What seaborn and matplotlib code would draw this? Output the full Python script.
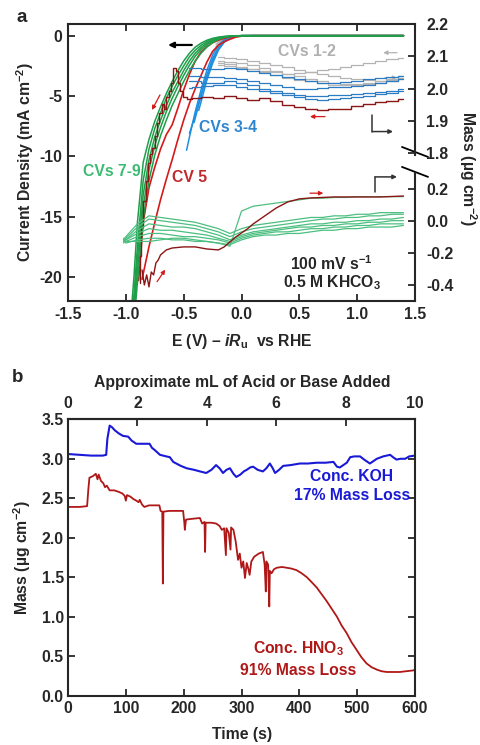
import numpy as np
import pandas as pd
import matplotlib
matplotlib.use('Agg')
import matplotlib.pyplot as plt
from matplotlib.ticker import FormatStrFormatter
import seaborn as sns

# -----------------------------
# Panel a: current (left axis)
# -----------------------------
E_green_cur = [-0.95, -0.93, -0.9, -0.85, -0.8, -0.75, -0.7, -0.65, -0.6, -0.55, -0.5, -0.45,
               -0.4, -0.35, -0.3, -0.25, -0.2, -0.15, -0.1, -0.05, 0.0, 0.1, 1.4]
I_green_1 = [-22.5, -20.0, -15.5, -10.5, -8.6, -7.1, -5.9, -4.8, -3.8, -2.9, -2.1, -1.45,
             -0.95, -0.62, -0.38, -0.22, -0.12, -0.06, -0.03, -0.01, 0.0, 0.0, 0.0]
I_green_2 = [-23.5, -21.5, -17.5, -12.0, -9.4, -7.7, -6.4, -5.2, -4.2, -3.3, -2.5, -1.75,
             -1.2, -0.8, -0.5, -0.3, -0.16, -0.08, -0.04, -0.015, 0.0, 0.0, 0.0]
I_green_3 = [-24.0, -22.3, -18.5, -13.2, -10.3, -8.4, -7.0, -5.8, -4.7, -3.8, -2.9, -2.1,
             -1.45, -0.98, -0.62, -0.38, -0.21, -0.1, -0.05, -0.02, 0.0, 0.0, 0.0]
I_green_4 = [-24.5, -23.0, -19.5, -14.2, -11.1, -9.1, -7.6, -6.3, -5.2, -4.2, -3.3, -2.45,
             -1.7, -1.15, -0.74, -0.45, -0.25, -0.12, -0.06, -0.02, 0.0, 0.0, 0.0]
I_green_5 = [-25.0, -23.8, -20.5, -15.2, -12.0, -9.9, -8.3, -7.0, -5.8, -4.8, -3.8, -2.9,
             -2.1, -1.45, -0.95, -0.58, -0.32, -0.15, -0.07, -0.03, -0.01, 0.0, 0.0]

E_red_cur_1 = [-0.89, -0.85, -0.8, -0.75, -0.7, -0.65, -0.6, -0.55, -0.5, -0.45, -0.4, -0.35,
               -0.3, -0.25, -0.2, -0.15, -0.1, -0.05, 0.0, 0.1, 1.4]
I_red_cur_1 = [-20.3, -15.5, -12.6, -10.9, -9.4, -8.2, -7.4, -6.0, -4.5, -3.2, -2.1, -1.35,
               -0.9, -0.58, -0.38, -0.22, -0.1, -0.04, -0.01, 0.0, 0.0]
E_red_cur_2 = [-0.86, -0.8, -0.75, -0.7, -0.65, -0.6, -0.55, -0.5, -0.45, -0.4, -0.35, -0.3,
               -0.25, -0.2, -0.15, -0.1, -0.05, 0.0, 0.1, 1.4]
I_red_cur_2 = [-20.2, -17.5, -15.5, -13.6, -11.9, -10.3, -8.6, -7.0, -5.6, -4.4, -3.3, -2.2,
               -1.3, -0.8, -0.5, -0.3, -0.12, -0.04, 0.0, 0.0]

E_blue_cur_1 = [-0.475, -0.45, -0.4, -0.35, -0.3, -0.25, -0.2, -0.15, -0.1, -0.05, 0.0, 1.4]
I_blue_cur_1 = [-9.5, -8.4, -6.3, -4.5, -2.9, -1.6, -0.8, -0.35, -0.12, -0.03, 0.0, 0.0]
E_blue_cur_2 = [-0.45, -0.4, -0.35, -0.3, -0.25, -0.2, -0.15, -0.1, -0.05, 0.0, 1.4]
I_blue_cur_2 = [-8.1, -6.6, -4.9, -3.3, -1.9, -1.0, -0.45, -0.15, -0.05, 0.0, 0.0]
E_blue_cur_3 = [-0.41, -0.35, -0.3, -0.25, -0.2, -0.15, -0.1, -0.05, 0.0, 1.4]
I_blue_cur_3 = [-7.2, -5.0, -3.4, -2.1, -1.1, -0.5, -0.2, -0.05, 0.0, 0.0]
E_blue_cur_4 = [-0.37, -0.35, -0.3, -0.25, -0.2, -0.15, -0.1, -0.05, 0.0, 1.4]
I_blue_cur_4 = [-6.2, -5.5, -3.7, -2.3, -1.2, -0.55, -0.2, -0.06, 0.0, 0.0]

E_gray_cur = [-0.22, -0.2, -0.15, -0.1, -0.05, 0.0, 1.4]
I_gray_cur_1 = [-0.9, -0.7, -0.35, -0.14, -0.04, 0.0, 0.0]
I_gray_cur_2 = [-0.7, -0.55, -0.28, -0.1, -0.03, 0.0, 0.0]

# -----------------------------
# Panel a: mass, upper break (1.8 - 2.2)
# -----------------------------
E_gray_m = [-0.2, -0.1, 0.0, 0.1, 0.2, 0.3, 0.4, 0.5, 0.6, 0.7, 0.8, 0.9, 1.0, 1.1, 1.2, 1.3, 1.4]
m_gray_1 = [2.098, 2.094, 2.092, 2.086, 2.080, 2.072, 2.066, 2.058, 2.050, 2.044, 2.040, 2.034,
            2.030, 2.026, 2.024, 2.026, 2.030]
m_gray_2 = [2.086, 2.083, 2.078, 2.072, 2.064, 2.055, 2.046, 2.038, 2.030, 2.024, 2.018, 2.014,
            2.012, 2.014, 2.018, 2.024, 2.032]
m_gray_3 = [2.074, 2.070, 2.064, 2.060, 2.055, 2.050, 2.046, 2.048, 2.052, 2.056, 2.060, 2.066,
            2.072, 2.079, 2.086, 2.091, 2.096]
m_gray_4 = [2.080, 2.076, 2.068, 2.060, 2.052, 2.042, 2.034, 2.028, 2.022, 2.016, 2.012, 2.010,
            2.013, 2.016, 2.022, 2.030, 2.040]

E_blue_m = [-0.45, -0.4, -0.3, -0.2, -0.1, 0.0, 0.1, 0.2, 0.3, 0.4, 0.5, 0.6, 0.7, 0.8, 0.9,
            1.0, 1.1, 1.2, 1.3, 1.4]
m_blue_1 = [2.063, 2.063, 2.060, 2.060, 2.063, 2.060, 2.054, 2.047, 2.041, 2.035, 2.029, 2.023,
            2.016, 2.016, 2.020, 2.023, 2.029, 2.032, 2.035, 2.038]
m_blue_2 = [2.038, 2.038, 2.035, 2.035, 2.032, 2.029, 2.023, 2.016, 2.010, 2.004, 1.998, 1.998,
            2.001, 2.004, 2.004, 2.007, 2.010, 2.016, 2.023, 2.029]
m_blue_3 = [2.023, 2.023, 2.016, 2.016, 2.023, 2.016, 2.010, 1.998, 1.992, 1.985, 1.979, 1.976,
            1.976, 1.979, 1.979, 1.982, 1.985, 1.989, 1.992, 1.998]
m_blue_4 = [2.001, 2.004, 2.007, 2.010, 2.010, 2.004, 1.998, 1.992, 1.985, 1.979, 1.973, 1.967,
            1.964, 1.967, 1.970, 1.973, 1.976, 1.982, 1.985, 1.992]

E_cv5_hi = [-0.88, -0.87, -0.86, -0.84, -0.82, -0.8, -0.78, -0.76, -0.74, -0.72, -0.7, -0.68,
            -0.66, -0.64, -0.62, -0.6, -0.58, -0.56, -0.54, -0.52, -0.5, -0.45, -0.4, -0.3,
            -0.2, -0.1, 0.0, 0.1, 0.2, 0.3, 0.4, 0.5, 0.6, 0.7, 0.8, 0.9, 1.0, 1.1, 1.2, 1.3, 1.4]
m_cv5_hi = [1.397, 1.481, 1.573, 1.651, 1.713, 1.769, 1.797, 1.815, 1.852, 1.893, 1.924, 1.952,
            1.936, 1.973, 1.992, 2.016, 2.063, 2.054, 2.016, 1.992, 1.973, 1.967, 1.970, 1.973,
            1.970, 1.976, 1.970, 1.964, 1.970, 1.961, 1.948, 1.942, 1.936, 1.933, 1.936, 1.936,
            1.945, 1.951, 1.958, 1.961, 1.967]

# -----------------------------
# Panel a: mass, lower break (-0.5 - 0.3)
# -----------------------------
E_cv5_lo = [-0.86, -0.84, -0.82, -0.8, -0.78, -0.76, -0.74, -0.72, -0.7, -0.65, -0.6, -0.5,
            -0.4, -0.3, -0.2, -0.15, -0.1, -0.05, 0.0, 0.05, 0.1, 0.15, 0.2, 0.25, 0.3, 0.4,
            0.5, 0.6, 0.8, 1.0, 1.2, 1.4]
m_cv5_lo = [-0.308, -0.402, -0.339, -0.414, -0.321, -0.339, -0.264, -0.246, -0.214, -0.183,
            -0.171, -0.164, -0.164, -0.177, -0.183, -0.164, -0.133, -0.102, -0.077, -0.052,
            -0.021, 0.004, 0.029, 0.054, 0.079, 0.117, 0.136, 0.142, 0.148, 0.148, 0.148, 0.154]

E_green_m = [-1.02, -1.0, -0.9, -0.8, -0.7, -0.6, -0.5, -0.4, -0.3, -0.2, -0.1, 0.0, 0.1, 0.2,
             0.3, 0.4, 0.5, 0.6, 0.7, 0.8, 0.9, 1.0, 1.1, 1.2, 1.3, 1.4]
m_green_1 = [-0.12, -0.10, -0.02, 0.03, 0.02, 0.01, 0.00, -0.01, -0.03, -0.05, -0.08, -0.05,
             -0.03, -0.02, -0.01, 0.00, 0.01, 0.02, 0.02, 0.03, 0.03, 0.04, 0.04, 0.05, 0.05, 0.05]
m_green_2 = [-0.13, -0.11, -0.04, 0.01, 0.00, -0.01, -0.02, -0.03, -0.05, -0.07, -0.10, -0.07,
             -0.05, -0.04, -0.03, -0.02, -0.01, 0.00, 0.01, 0.01, 0.02, 0.02, 0.03, 0.03, 0.04, 0.04]
m_green_3 = [-0.11, -0.12, -0.06, -0.02, -0.03, -0.04, -0.04, -0.05, -0.07, -0.09, -0.12, -0.09,
             -0.07, -0.06, -0.05, -0.04, -0.03, -0.02, -0.02, -0.01, -0.01, 0.00, 0.00, 0.01, 0.01, 0.02]
m_green_4 = [-0.14, -0.12, -0.08, -0.05, -0.06, -0.06, -0.07, -0.08, -0.09, -0.11, -0.13, -0.10,
             -0.08, -0.07, -0.06, -0.05, -0.04, -0.04, -0.03, -0.03, -0.02, -0.02, -0.01, -0.01, 0.00, 0.00]
m_green_5 = [-0.13, -0.13, -0.10, -0.08, -0.08, -0.09, -0.10, -0.10, -0.11, -0.12, -0.14, -0.11,
             -0.09, -0.08, -0.07, -0.07, -0.06, -0.05, -0.05, -0.04, -0.04, -0.03, -0.03, -0.02, -0.02, -0.02]
m_green_6 = [-0.12, -0.14, -0.12, -0.11, -0.11, -0.12, -0.12, -0.13, -0.13, -0.14, -0.15, -0.12,
             -0.10, -0.09, -0.09, -0.08, -0.08, -0.07, -0.06, -0.06, -0.05, -0.05, -0.04, -0.04, -0.04, -0.03]
m_green_7 = [-0.12, -0.13, -0.13, -0.13, -0.12, -0.11, -0.11, -0.12, -0.13, -0.14, -0.16, 0.06,
             0.09, 0.10, 0.11, 0.12, 0.13, 0.14, 0.14, 0.145, 0.145, 0.15, 0.15, 0.15, 0.15, 0.15]

# -----------------------------
# Panel b: EQCM mass vs time
# -----------------------------
t_koh = [0, 20, 40, 60, 66, 68, 72, 76, 81, 88, 95, 104, 110, 118, 130, 141, 145, 150, 159, 170,
         176, 182, 195, 205, 218, 228, 239, 248, 256, 262, 268, 274, 280, 286, 291, 298, 304,
         309, 315, 320, 328, 337, 343, 349, 354, 358, 365, 372, 385, 401, 415, 430, 445, 459,
         465, 470, 476, 482, 488, 495, 505, 512, 522, 528, 534, 545, 557, 562, 568, 575, 583,
         590, 600]
m_koh = [3.06, 3.05, 3.04, 3.04, 3.05, 3.25, 3.42, 3.40, 3.36, 3.32, 3.29, 3.28, 3.23, 3.19,
         3.19, 3.19, 3.14, 3.11, 3.05, 3.03, 3.02, 2.96, 2.91, 2.88, 2.86, 2.84, 2.82, 2.86,
         2.92, 2.88, 2.82, 2.86, 2.88, 2.81, 2.77, 2.80, 2.84, 2.86, 2.89, 2.90, 2.86, 2.84,
         2.88, 2.94, 2.88, 2.82, 2.86, 2.91, 2.92, 2.94, 2.94, 2.95, 2.95, 2.96, 2.90, 2.89,
         2.92, 2.95, 3.02, 3.03, 3.03, 2.99, 2.94, 2.97, 3.00, 3.03, 3.05, 3.02, 2.99, 3.00,
         3.00, 3.03, 3.04]

t_hno3 = [0, 20, 33, 35, 37, 43, 48, 51, 53, 57, 61, 64, 67, 72, 80, 88, 94, 98, 100, 102,
          108, 113, 118, 122, 124, 128, 132, 140, 150, 158, 160, 163, 164, 165, 175, 188, 199,
          201, 202, 204, 215, 228, 232, 236, 237, 238, 248, 256, 262, 266, 270, 273, 274, 278,
          281, 282, 286, 290, 294, 297, 300, 303, 306, 309, 312, 314, 317, 322, 330, 337, 340,
          342, 343, 346, 348, 349, 352, 356, 361, 370, 378, 386, 395, 404, 413, 421, 430, 438,
          447, 456, 465, 473, 482, 490, 499, 507, 516, 525, 534, 542, 551, 560, 574, 585, 597, 600]
m_hno3 = [2.39, 2.39, 2.40, 2.60, 2.76, 2.78, 2.81, 2.74, 2.80, 2.72, 2.69, 2.64, 2.66, 2.60,
          2.60, 2.58, 2.56, 2.53, 2.47, 2.54, 2.52, 2.49, 2.47, 2.45, 2.48, 2.42, 2.39, 2.41,
          2.41, 2.41, 2.34, 2.33, 1.42, 2.33, 2.34, 2.34, 2.34, 2.20, 2.10, 2.23, 2.24, 2.25,
          2.18, 2.20, 1.82, 2.19, 2.19, 2.18, 2.15, 2.10, 2.12, 1.78, 2.12, 2.06, 1.85, 2.13,
          2.10, 1.95, 1.72, 1.80, 1.62, 1.70, 1.49, 1.68, 1.60, 1.53, 1.70, 1.76, 1.80, 1.82,
          1.66, 1.32, 1.70, 1.66, 1.13, 1.58, 1.55, 1.60, 1.62, 1.63, 1.62, 1.61, 1.59, 1.55,
          1.50, 1.44, 1.37, 1.29, 1.20, 1.10, 1.00, 0.89, 0.79, 0.68, 0.58, 0.49, 0.41, 0.36,
          0.33, 0.31, 0.30, 0.30, 0.30, 0.31, 0.32, 0.33]

# -----------------------------
# Style
# -----------------------------
sns.set_style('ticks')
plt.rcParams['font.family'] = ['Liberation Sans', 'DejaVu Sans']
plt.rcParams['font.weight'] = 'bold'
plt.rcParams['axes.unicode_minus'] = False
plt.rcParams['mathtext.fontset'] = 'custom'
plt.rcParams['mathtext.rm'] = 'Liberation Sans:bold'
plt.rcParams['mathtext.it'] = 'Liberation Sans:italic:bold'
plt.rcParams['mathtext.bf'] = 'Liberation Sans:bold'

FS = 11.3
GREEN_I, GREEN_M, GREEN_T = '#1f9e4a', '#4cbf80', '#3dbb74'
RED_I, RED_M, RED_T = '#d41a1a', '#8c1515', '#c0282e'
BLUE_I, BLUE_M, BLUE_T = '#1f8fe0', '#2b7cc4', '#2e86d0'
GRAY = '#b4b4b4'


def draw_traces(ax, pairs, color, lw, steps=False):
    rows = []
    for k, (xs, ys) in enumerate(pairs):
        rows += [(k, xv, yv) for xv, yv in zip(xs, ys)]
    df = pd.DataFrame(rows, columns=['trace', 'x', 'y'])
    extra = {'drawstyle': 'steps-mid'} if steps else {}
    sns.lineplot(data=df, x='x', y='y', units='trace', estimator=None, sort=False,
                 color=color, lw=lw, legend=False, ax=ax, **extra)
    ax.set_xlabel('')
    ax.set_ylabel('')


def small_arrow(ax, start, end, color, lw=0.9, ms=6):
    ax.annotate('', xy=end, xytext=start,
                arrowprops=dict(arrowstyle='-|>', color=color, lw=lw,
                                mutation_scale=ms, shrinkA=0, shrinkB=0))


fig = plt.figure(figsize=(4.8, 7.45), dpi=100)

# -----------------------------
# Panel a
# -----------------------------
ax = fig.add_axes([0.1417, 0.5960, 0.7229, 0.3718])
ax_hi = ax.twinx()
ax_lo = ax.twinx()

draw_traces(ax, [(E_gray_cur, I_gray_cur_1), (E_gray_cur, I_gray_cur_2)], GRAY, 1.1)
draw_traces(ax, [(E_blue_cur_1, I_blue_cur_1), (E_blue_cur_2, I_blue_cur_2),
                 (E_blue_cur_3, I_blue_cur_3), (E_blue_cur_4, I_blue_cur_4)], BLUE_I, 1.1)
draw_traces(ax, [(E_red_cur_1, I_red_cur_1), (E_red_cur_2, I_red_cur_2)], RED_I, 1.2)
draw_traces(ax, [(E_green_cur, I_green_1), (E_green_cur, I_green_2), (E_green_cur, I_green_3),
                 (E_green_cur, I_green_4), (E_green_cur, I_green_5)], GREEN_I, 1.1)

draw_traces(ax_hi, [(E_gray_m, m_gray_1), (E_gray_m, m_gray_2), (E_gray_m, m_gray_3),
                    (E_gray_m, m_gray_4)], GRAY, 0.9, steps=True)
draw_traces(ax_hi, [(E_blue_m, m_blue_1), (E_blue_m, m_blue_2), (E_blue_m, m_blue_3),
                    (E_blue_m, m_blue_4)], BLUE_M, 0.9, steps=True)
draw_traces(ax_hi, [(E_cv5_hi, m_cv5_hi)], RED_M, 1.0, steps=True)

draw_traces(ax_lo, [(E_green_m, m_green_1), (E_green_m, m_green_2), (E_green_m, m_green_3),
                    (E_green_m, m_green_4), (E_green_m, m_green_5), (E_green_m, m_green_6),
                    (E_green_m, m_green_7)], GREEN_M, 0.9)
draw_traces(ax_lo, [(E_cv5_lo, m_cv5_lo)], RED_M, 1.0)

ax.set_xlim(-1.5, 1.5)
ax.set_ylim(-22, 0.97)
ax.set_xticks([-1.5, -1.0, -0.5, 0.0, 0.5, 1.0, 1.5])
ax.set_yticks([0, -5, -10, -15, -20])
ax.xaxis.set_major_formatter(FormatStrFormatter('%.1f'))
ax.tick_params(direction='in', top=True, right=False, length=5, width=1.3,
               labelsize=FS, pad=4)
ax.spines['right'].set_visible(False)
for s in ['left', 'top', 'bottom']:
    ax.spines[s].set_linewidth(1.5)

ax_hi.set_ylim(2.2 - 277 / 323, 2.2)
ax_hi.set_yticks([1.8, 1.9, 2.0, 2.1, 2.2])
ax_lo.set_ylim(-0.502, 1.229)
ax_lo.set_yticks([-0.4, -0.2, 0.0, 0.2])
for a, bounds in ((ax_hi, (1.795, 2.2)), (ax_lo, (-0.502, 0.30))):
    for s in ['left', 'top', 'bottom']:
        a.spines[s].set_visible(False)
    a.spines['right'].set_linewidth(1.5)
    a.spines['right'].set_bounds(*bounds)
    a.yaxis.set_major_formatter(FormatStrFormatter('%.1f'))
    a.tick_params(axis='y', direction='in', length=5, width=1.3, labelsize=FS, pad=8)

# axis break marks
for y0 in (0.556, 0.484):
    ax.plot([0.9625, 1.0375], [y0, y0 - 0.036], transform=ax.transAxes, color='k',
            lw=1.3, clip_on=False)

# axis pointers
small_arrow(ax, (-0.43, -0.77), (-0.635, -0.77), 'k', lw=1.6, ms=8)
ax.plot([1.131, 1.131], [-6.57, -7.95], color='#333333', lw=1.1)
small_arrow(ax, (1.131, -7.95), (1.31, -7.95), '#333333', lw=1.1, ms=6)
ax.plot([1.154, 1.154], [-12.95, -11.71], color='#333333', lw=1.1)
small_arrow(ax, (1.154, -11.71), (1.344, -11.71), '#333333', lw=1.1, ms=6)

# sweep direction arrows
small_arrow(ax, (1.345, -1.41), (1.225, -1.41), GRAY)
small_arrow(ax, (1.24, -3.48), (1.345, -3.48), GRAY)
small_arrow(ax, (0.722, -6.71), (0.592, -6.71), RED_I)
small_arrow(ax, (0.592, -13.06), (0.707, -13.06), RED_I)
small_arrow(ax, (-0.705, -4.91), (-0.774, -6.16), RED_I)
small_arrow(ax, (-0.73, -20.4), (-0.66, -19.4), RED_I)

ax.text(0.566, -1.35, 'CVs 1-2', color='#b0b0b0', fontsize=FS, ha='center', va='center')
ax.text(-0.117, -7.65, 'CVs 3-4', color=BLUE_T, fontsize=FS, ha='center', va='center')
ax.text(-1.12, -11.3, 'CVs 7-9', color=GREEN_T, fontsize=FS, ha='center', va='center')
ax.text(-0.445, -11.8, 'CV 5', color=RED_T, fontsize=FS, ha='center', va='center')
ax.text(0.78, -18.9, '100 mV s$^{-1}$', fontsize=FS, ha='center', va='center')
ax.text(0.78, -20.5, '0.5 M KHCO$_3$', fontsize=FS, ha='center', va='center')

fig.text(22 / 480, 1 - 18 / 745, 'a', fontsize=13.5, ha='center', va='center')
fig.text(25 / 480, 1 - 162 / 745, 'Current Density (mA cm$^{-2}$)', rotation=90,
         fontsize=FS, ha='center', va='center')
fig.text(468 / 480, 1 - 168 / 745, 'Mass (µg cm$^{-2}$)', rotation=270,
         fontsize=FS, ha='center', va='center')
fig.text(242 / 480, 1 - 342 / 745, r'E (V) – $\mathit{iR}_{\mathrm{u}}$  vs RHE',
         fontsize=FS, ha='center', va='center')

# -----------------------------
# Panel b
# -----------------------------
axb = fig.add_axes([0.1417, 0.0662, 0.7229, 0.3710])
sns.lineplot(x=t_koh, y=m_koh, color='#1a1ad6', lw=1.5, estimator=None, sort=False, ax=axb)
sns.lineplot(x=t_hno3, y=m_hno3, color='#b01818', lw=1.3, estimator=None, sort=False, ax=axb)
axb.set_xlim(0, 600)
axb.set_ylim(0, 3.5)
axb.set_xticks([0, 100, 200, 300, 400, 500, 600])
axb.set_yticks([0.0, 0.5, 1.0, 1.5, 2.0, 2.5, 3.0, 3.5])
axb.yaxis.set_major_formatter(FormatStrFormatter('%.1f'))
axb.tick_params(direction='in', top=False, right=True, length=5, width=1.3,
                labelsize=FS, pad=4)
axb.tick_params(axis='y', pad=3)
for s in axb.spines.values():
    s.set_linewidth(1.5)

secax = axb.secondary_xaxis('top', functions=(lambda t: t / 60.0, lambda v: v * 60.0))
secax.set_xticks([0, 2, 4, 6, 8, 10])
secax.tick_params(direction='in', length=5, width=1.3, labelsize=FS, pad=6)
secax.spines['top'].set_linewidth(1.5)

axb.text(491, 2.77, 'Conc. KOH', color='#1a1ad6', fontsize=FS, ha='center', va='center')
axb.text(491, 2.53, '17% Mass Loss', color='#1a1ad6', fontsize=FS, ha='center', va='center')
axb.text(398, 0.60, 'Conc. HNO$_3$', color='#b01818', fontsize=FS, ha='center', va='center')
axb.text(398, 0.325, '91% Mass Loss', color='#b01818', fontsize=FS, ha='center', va='center')

fig.text(18 / 480, 1 - 377 / 745, 'b', fontsize=13.5, ha='center', va='center')
fig.text(242 / 480, 1 - 382 / 745, 'Approximate mL of Acid or Base Added',
         fontsize=FS, ha='center', va='center')
fig.text(22 / 480, 1 - 558 / 745, 'Mass (µg cm$^{-2}$)', rotation=90,
         fontsize=FS, ha='center', va='center')
fig.text(242 / 480, 1 - 735 / 745, 'Time (s)', fontsize=FS, ha='center', va='center')

fig.savefig('out.png', dpi=100, facecolor='white')
plt.close(fig)
